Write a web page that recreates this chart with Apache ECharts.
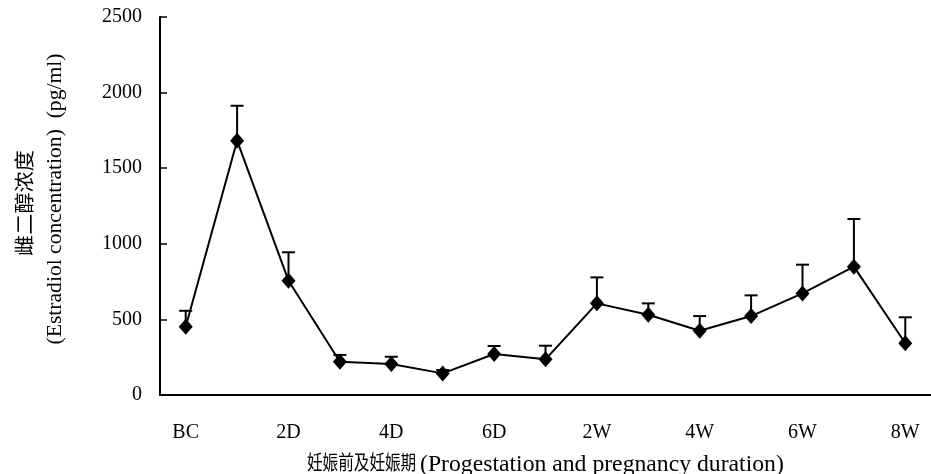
<!DOCTYPE html>
<html>
<head>
<meta charset="utf-8">
<script src="https://cdn.jsdelivr.net/npm/echarts@6/dist/echarts.min.js"></script>
<style>
  html, body { margin: 0; padding: 0; background: #fff; }
  #chart { width: 931px; height: 474px; }
</style>
</head>
<body>
<div id="chart"></div>
<script>
// 数据
const categories = ['BC', '1D', '2D', '3D', '4D', '5D', '6D', '1W', '2W', '3W', '4W', '5W', '6W', '7W', '8W'];
const meanValues = [452, 1682, 756, 220, 205, 143, 271, 236, 606, 531, 425, 522, 672, 849, 342];
const sdValues = [105, 231, 188, 45, 48, 22, 53, 90, 172, 75, 97, 137, 190, 315, 172];
const yTicks = [0, 500, 1000, 1500, 2000, 2500];

const serif = '"Liberation Serif", "Times New Roman", "Noto Sans CJK SC", serif';

// 误差线数据: [索引, 均值, 均值+SD]
const errData = meanValues.map((v, i) => [i, v, v + sdValues[i]]);

const chart = echarts.init(document.getElementById('chart'));

const option = {
    animation: false,
    grid: { left: 160, right: 0, top: 17, bottom: 79 },
    xAxis: {
        type: 'category',
        data: categories,
        boundaryGap: true,
        axisLine: { lineStyle: { color: '#000', width: 2 } },
        axisTick: { inside: true, length: 8, lineStyle: { color: '#000', width: 1.5 } },
        axisLabel: {
            interval: 1,
            margin: 28,
            color: '#000',
            fontSize: 20,
            fontFamily: serif
        },
        splitLine: { show: false }
    },
    yAxis: {
        type: 'value',
        min: yTicks[0],
        max: yTicks[yTicks.length - 1],
        interval: 500,
        axisLine: { show: true, lineStyle: { color: '#000', width: 2 } },
        axisTick: { show: true, inside: true, length: 7, lineStyle: { color: '#000', width: 1.5 } },
        axisLabel: {
            margin: 18,
            color: '#000',
            fontSize: 20,
            fontFamily: serif,
            formatter: function (v) { return String(v); }
        },
        splitLine: { show: false }
    },
    graphic: [
        {
            type: 'text',
            x: 27, y: 203,
            rotation: Math.PI / 2,
            scaleX: 1.06,
            style: {
                text: '雌二醇浓度',
                fill: '#000',
                font: '20px ' + serif,
                textAlign: 'center',
                textVerticalAlign: 'middle'
            }
        },
        {
            type: 'text',
            x: 56, y: 199,
            rotation: Math.PI / 2,
            scaleX: 1.08,
            style: {
                text: '(Estradiol concentration)  (pg/ml)',
                fill: '#000',
                font: '20px ' + serif,
                textAlign: 'center',
                textVerticalAlign: 'middle'
            }
        },
        {
            type: 'text',
            x: 307, y: 465,
            scaleX: 0.78,
            style: {
                text: '妊娠前及妊娠期',
                fill: '#000',
                font: '20px ' + serif,
                textAlign: 'left',
                textVerticalAlign: 'middle'
            }
        },
        {
            type: 'text',
            x: 420, y: 465,
            scaleX: 1.03,
            style: {
                text: '(Progestation and pregnancy duration)',
                fill: '#000',
                font: '23px ' + serif,
                textAlign: 'left',
                textVerticalAlign: 'middle'
            }
        }
    ],
    series: [
        {
            type: 'custom',
            name: 'SD',
            data: errData,
            z: 1,
            renderItem: function (params, api) {
                const idx = api.value(0);
                const base = api.coord([idx, api.value(1)]);
                const top = api.coord([idx, api.value(2)]);
                const half = 6.5;
                const style = { stroke: '#000', lineWidth: 2 };
                return {
                    type: 'group',
                    children: [
                        { type: 'line', shape: { x1: base[0], y1: base[1], x2: top[0], y2: top[1] }, style: style },
                        { type: 'line', shape: { x1: top[0] - half, y1: top[1], x2: top[0] + half, y2: top[1] }, style: style }
                    ]
                };
            }
        },
        {
            type: 'line',
            name: 'mean',
            data: meanValues,
            z: 3,
            symbol: 'diamond',
            symbolSize: [14, 16],
            itemStyle: { color: '#000' },
            lineStyle: { color: '#000', width: 2 }
        }
    ]
};

chart.setOption(option);
</script>
</body>
</html>
